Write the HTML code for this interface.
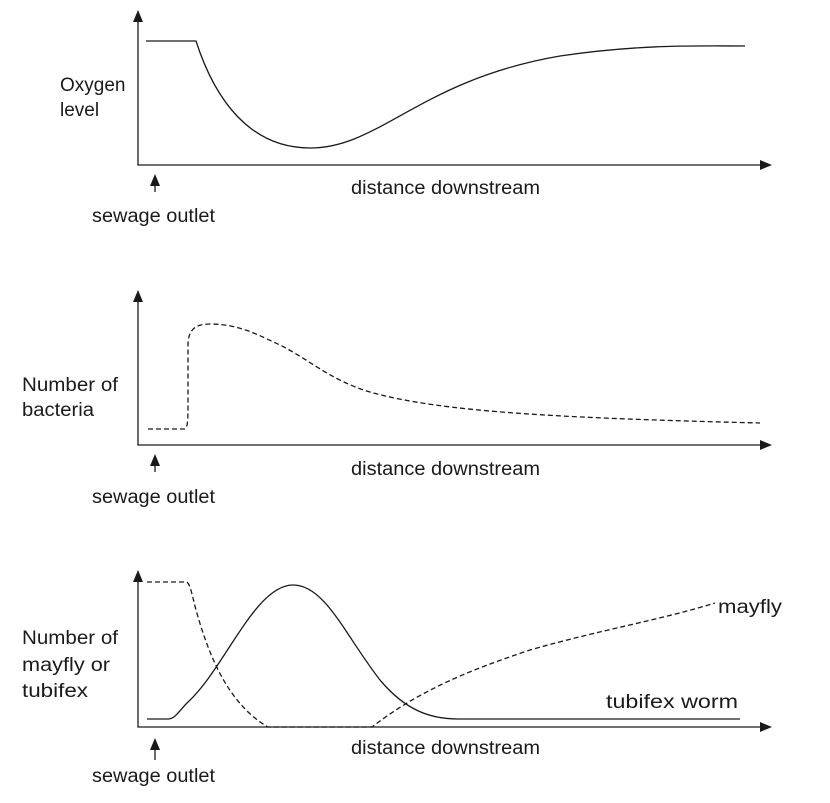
<!DOCTYPE html>
<html><head><meta charset="utf-8"><style>
html,body{margin:0;padding:0;background:#fff}
svg{display:block}
text{font-family:"Liberation Sans",sans-serif;font-size:19px;fill:#1a1a1a}
</style></head><body>
<svg width="830" height="803" viewBox="0 0 830 803" xmlns="http://www.w3.org/2000/svg">
<g stroke="#1a1a1a" stroke-width="1.3" fill="none">
<path d="M138 20 V165 H762"/>
<path d="M146 41 H196 C215 100 250 148 310 148 C380 148 420 80 560 56 C640 44 700 46 745 46"/>
<path d="M155 178 V192"/>
<path d="M138 300 V445 H762"/>
<path d="M148 429 H184 C188 429 188 420 188 400 L188 345 C188 330 195 324 210 324 C240 324 260 336 280 345 C310 360 330 380 370 392 C440 412 560 418 760 423" stroke-dasharray="5 3"/>
<path d="M155 458 V472"/>
<path d="M138 580 V727 H762"/>
<path d="M147 582 H186 C190 582 192 595 196 610 C210 660 230 705 268 727 H372 C420 690 470 670 530 650 C600 630 660 620 715 603" stroke-dasharray="5 3"/>
<path d="M147 719 H168 C175 719 178 712 188 702 C225 668 255 585 293 585 C325 585 345 635 380 680 C405 710 430 719 458 719 H740"/>
<path d="M155 740 V760"/>
</g>
<g fill="#1a1a1a">
<path d="M133 22 L138 10 L143 22Z"/>
<path d="M760 160 L772 165 L760 170Z"/>
<path d="M150 186 L155 174 L160 186Z"/>
<path d="M133 302 L138 290 L143 302Z"/>
<path d="M760 440 L772 445 L760 450Z"/>
<path d="M150 466 L155 454 L160 466Z"/>
<path d="M133 582 L138 570 L143 582Z"/>
<path d="M760 722 L772 727 L760 732Z"/>
<path d="M150 750 L155 738 L160 750Z"/>
</g>
<text x="60" y="91">Oxygen</text>
<text x="60" y="116">level</text>
<text x="351" y="194" textLength="189" lengthAdjust="spacingAndGlyphs">distance downstream</text>
<text x="92" y="222" textLength="123" lengthAdjust="spacingAndGlyphs">sewage outlet</text>
<text x="22" y="391" textLength="96" lengthAdjust="spacingAndGlyphs">Number of</text>
<text x="22" y="416" textLength="72" lengthAdjust="spacingAndGlyphs">bacteria</text>
<text x="351" y="475" textLength="189" lengthAdjust="spacingAndGlyphs">distance downstream</text>
<text x="92" y="503" textLength="123" lengthAdjust="spacingAndGlyphs">sewage outlet</text>
<text x="22" y="644" textLength="96" lengthAdjust="spacingAndGlyphs">Number of</text>
<text x="22" y="671" textLength="88" lengthAdjust="spacingAndGlyphs">mayfly or</text>
<text x="22" y="697" textLength="66" lengthAdjust="spacingAndGlyphs">tubifex</text>
<text x="718" y="613" textLength="64" lengthAdjust="spacingAndGlyphs">mayfly</text>
<text x="606" y="708" textLength="132" lengthAdjust="spacingAndGlyphs">tubifex worm</text>
<text x="351" y="754" textLength="189" lengthAdjust="spacingAndGlyphs">distance downstream</text>
<text x="92" y="782" textLength="123" lengthAdjust="spacingAndGlyphs">sewage outlet</text>
</svg>
</body></html>
